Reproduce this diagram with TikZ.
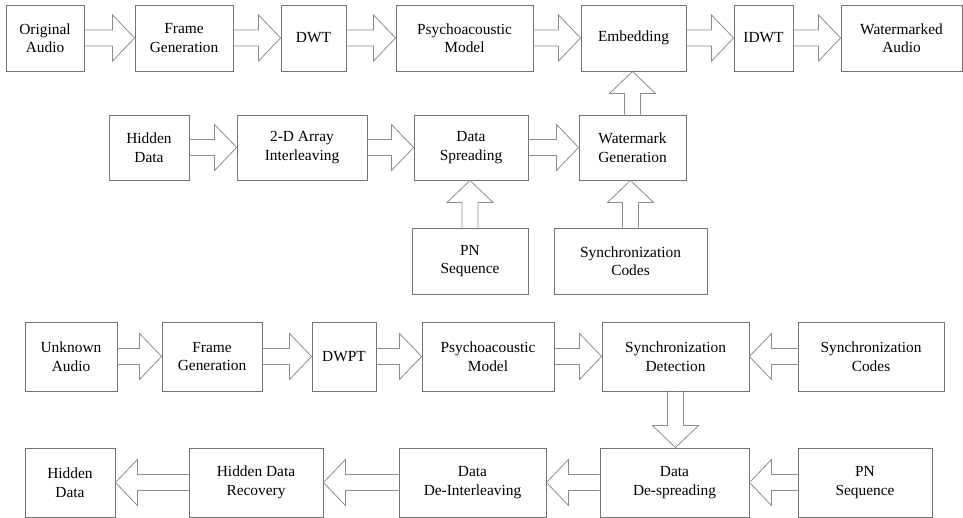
\documentclass[tikz,border=0pt]{standalone}
\usepackage{fontspec}
\setmainfont{Liberation Serif}
\usetikzlibrary{calc}

\tikzset{
  box/.style={draw=black!55, line width=0.9pt, rectangle, inner sep=0pt,
    align=center, text=black, font=\fontsize{15.4}{18.5}\selectfont},
  arr/.style={draw=black!45, line width=0.8pt, line join=miter}
}

% Hollow block arrow from tail point #1 to tip point #2
\newcommand\blockarrow[2]{%
  \coordinate (hb) at ($(#2)!22pt!(#1)$);
  \draw[arr] ($(#1)!8pt!90:(#2)$) -- ($(hb)!8pt!90:(#2)$)
    -- ($(hb)!23pt!90:(#2)$) -- (#2)
    -- ($(hb)!23pt!-90:(#2)$) -- ($(hb)!8pt!-90:(#2)$)
    -- ($(#1)!8pt!-90:(#2)$);
}

\begin{document}
\begin{tikzpicture}[x=1pt, y=-1pt]
\useasboundingbox (0,0) rectangle (963,518);

% embedding chain
\node[box, minimum width=78pt,  minimum height=66pt] (oa)   at (45,38)    {Original\\Audio};
\node[box, minimum width=98pt,  minimum height=66pt] (fg)   at (184,38)   {Frame\\Generation};
\node[box, minimum width=65pt,  minimum height=66pt] (dwt)  at (313.5,38) {DWT};
\node[box, minimum width=137pt, minimum height=66pt] (pm)   at (464.5,38) {Psychoacoustic\\Model};
\node[box, minimum width=105pt, minimum height=66pt] (emb)  at (633.5,38) {Embedding};
\node[box, minimum width=59pt,  minimum height=66pt] (idwt) at (763.5,38) {IDWT};
\node[box, minimum width=121pt, minimum height=66pt] (wa)   at (901.5,38) {Watermarked\\Audio};

\node[box, minimum width=80pt,  minimum height=65pt] (hd)  at (149,147.5)   {Hidden\\Data};
\node[box, minimum width=130pt, minimum height=65pt] (ai)  at (302,147.5)   {2-D Array\\Interleaving};
\node[box, minimum width=114pt, minimum height=65pt] (ds)  at (471,147.5)   {Data\\Spreading};
\node[box, minimum width=107pt, minimum height=65pt] (wg)  at (632.5,147.5) {Watermark\\Generation};

\node[box, minimum width=116pt, minimum height=66pt] (pn)  at (470,261)   {PN\\Sequence};
\node[box, minimum width=153pt, minimum height=66pt] (sc)  at (630.5,261) {Synchronization\\Codes};

% extraction chain
\node[box, minimum width=92pt,  minimum height=69pt] (ua)   at (71,356.5)    {Unknown\\Audio};
\node[box, minimum width=100pt, minimum height=69pt] (fg2)  at (212,356.5)   {Frame\\Generation};
\node[box, minimum width=64pt,  minimum height=69pt] (dwpt) at (344,356.5)   {DWPT};
\node[box, minimum width=132pt, minimum height=69pt] (pm2)  at (488,356.5)   {Psychoacoustic\\Model};
\node[box, minimum width=147pt, minimum height=69pt] (sd)   at (675.5,356.5) {Synchronization\\Detection};
\node[box, minimum width=146pt, minimum height=69pt] (sc2)  at (871,356.5)   {Synchronization\\Codes};

\node[box, minimum width=90pt,  minimum height=69pt] (hd2) at (70,482.5)    {Hidden\\Data};
\node[box, minimum width=134pt, minimum height=69pt] (hdr) at (256,482.5)   {Hidden Data\\Recovery};
\node[box, minimum width=147pt, minimum height=69pt] (ddi) at (472.5,482.5) {Data\\De-Interleaving};
\node[box, minimum width=149pt, minimum height=69pt] (dds) at (674.5,482.5) {Data\\De-spreading};
\node[box, minimum width=134pt, minimum height=69pt] (pn2) at (865,482.5)   {PN\\Sequence};

% connectors
\blockarrow{oa.east}{fg.west}
\blockarrow{fg.east}{dwt.west}
\blockarrow{dwt.east}{pm.west}
\blockarrow{pm.east}{emb.west}
\blockarrow{emb.east}{idwt.west}
\blockarrow{idwt.east}{wa.west}

\blockarrow{hd.east}{ai.west}
\blockarrow{ai.east}{ds.west}
\blockarrow{ds.east}{wg.west}
\blockarrow{wg.north}{wg.north |- emb.south}
\blockarrow{pn.north}{pn.north |- ds.south}
\blockarrow{sc.north}{sc.north |- wg.south}

\blockarrow{ua.east}{fg2.west}
\blockarrow{fg2.east}{dwpt.west}
\blockarrow{dwpt.east}{pm2.west}
\blockarrow{pm2.east}{sd.west}
\blockarrow{sc2.west}{sd.east}
\blockarrow{sd.south}{sd.south |- dds.north}

\blockarrow{pn2.west}{dds.east}
\blockarrow{dds.west}{ddi.east}
\blockarrow{ddi.west}{hdr.east}
\blockarrow{hdr.west}{hd2.east}
\end{tikzpicture}
\end{document}
